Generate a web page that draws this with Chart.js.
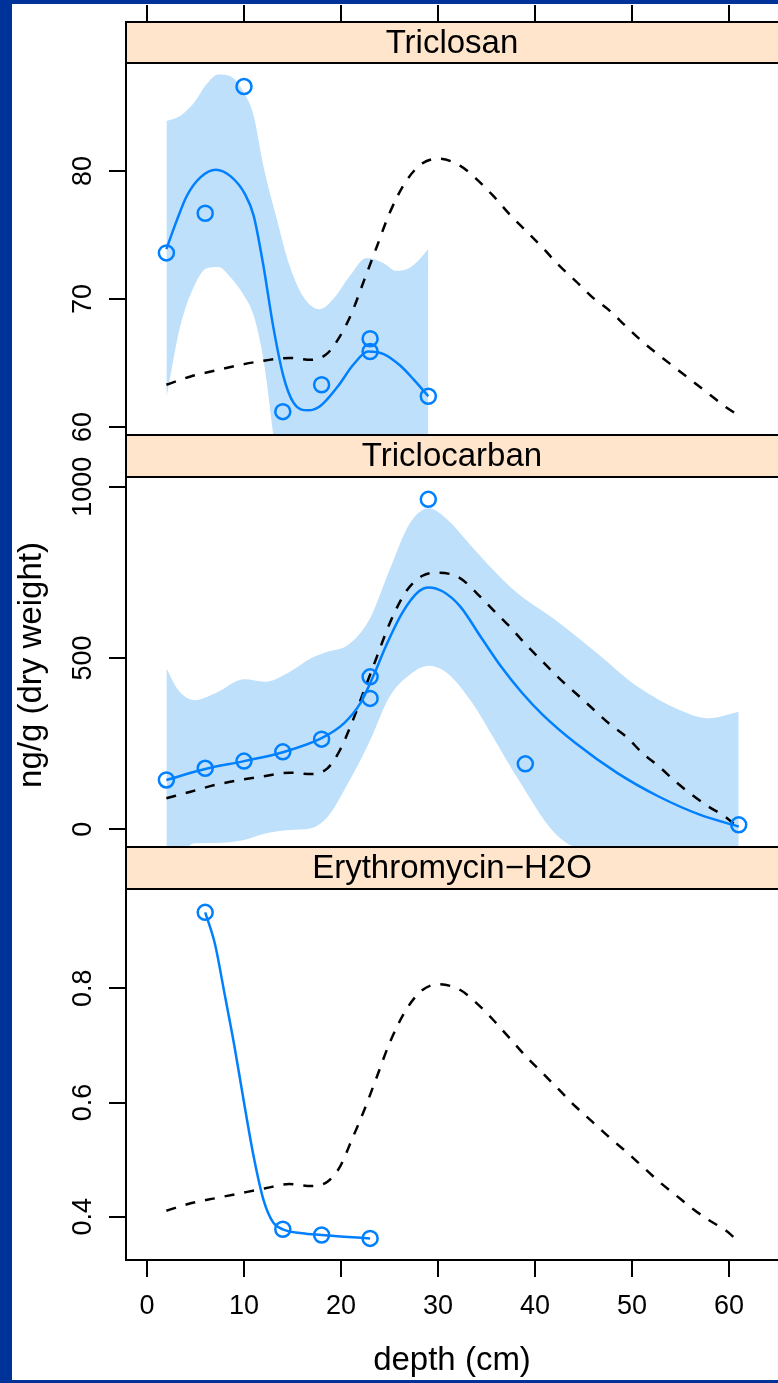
<!DOCTYPE html>
<html>
<head>
<meta charset="utf-8">
<script src="https://cdn.jsdelivr.net/npm/chart.js@4/dist/chart.umd.min.js"></script>
<style>
  html, body { margin: 0; padding: 0; background: #fff; }
  body { width: 778px; height: 1383px; position: relative; overflow: hidden; }
  canvas { position: absolute; left: 0; top: 0; }
  .edge { position: absolute; background: #003399; }
</style>
</head>
<body>
<canvas id="tcs" width="778" height="1383"></canvas>
<canvas id="tcc" width="778" height="1383"></canvas>
<canvas id="ery" width="778" height="1383"></canvas>
<div class="edge" style="left:0;top:0;width:12px;height:1383px"></div>
<div class="edge" style="left:0;top:0;width:778px;height:4px"></div>
<div class="edge" style="left:0;top:1380px;width:778px;height:3px"></div>
<script>
// depth axis, cm
const depthTicks = [0, 10, 20, 30, 40, 50, 60];
// depths of the dashed reference profile
const refDepth = [2, 4.5, 7, 9.6, 12.2, 14.7, 16.9, 18.6, 19.9, 21.1, 22.4, 23.7, 25, 26.7, 28.4, 30.1, 32.3,
  34, 35.7, 37.4, 39.1, 40.8, 42.5, 44.2, 45.9, 47.6, 49.4, 51.1, 52.8, 54.5, 56.2, 57.9, 59.6, 61];

// Triclosan
const tcsDepth = [2, 6, 10, 14, 18, 23, 23, 29];
const tcsConc = [73.6, 76.7, 86.6, 61.2, 63.3, 66.9, 65.9, 62.4];
const tcsFitDepth = [2, 3.1, 4.1, 5.5, 7.1, 8.6, 10.1, 11, 12, 13, 14.05, 15.1, 16.6, 17.8, 19.6, 21.3, 22.8, 24.4, 26.1, 27.5, 29];
const tcsFit = [73.9, 76.2, 78.05, 79.5, 80.1, 79.6, 78.2, 76.5, 72.6, 67.9, 64, 61.9, 61.3, 61.6, 63.1, 64.9, 65.9, 65.7, 64.8, 63.7, 62.4];
const tcsBandDepth = [2, 3.4, 4.8, 6.15, 7.35, 8.6, 9.9, 11, 12, 13.4, 14.7, 16.1, 17.8, 19.2, 20.9, 22.65, 24.4, 25.7, 27.1, 28.1, 29];
const tcsUpper = [83.9, 84.3, 85.3, 86.8, 87.55, 87.4, 86.25, 84.3, 80.4, 76.2, 72.6, 70.2, 69.2, 70, 71.8, 73.2, 72.8, 72.2, 72.45, 73.1, 73.9];
const tcsLower = [62.3, 67.8, 70.9, 72.4, 72.5, 71.7, 70.4, 68.7, 65.3, 57.5, 54.5, 52.5, 52.5, 54, 56.5, 58.5, 58.5, 57.5, 55, 53, 51];
const tcsRef = [63.3, 63.95, 64.4, 64.85, 65.2, 65.4, 65.25, 65.75, 67.1, 68.9, 71.5, 74.1, 76.7, 79.2, 80.6, 80.97, 80.4,
  79.35, 78.05, 76.6, 75.3, 74, 72.6, 71.4, 70.15, 69.15, 67.85, 66.65, 65.6, 64.6, 63.6, 62.6, 61.6, 60.9];
const tcsTicks = [60, 70, 80];

// Triclocarban
const tccDepth = [2, 6, 10, 14, 18, 23, 23, 29, 39, 61];
const tccConc = [144, 178, 199, 226, 263, 445, 382, 963, 191, 13];
const tccFitDepth = [2, 6, 10, 14, 18, 20.3, 22, 23.3, 24.6, 26.3, 28, 29.05, 30.5, 32.3, 34.4, 36.5, 38.7, 40.8, 44.2, 48.5, 52.8, 57.05, 61];
const tccFit = [144, 176, 199, 225, 266, 309, 368, 445, 533, 631, 694, 706, 694, 650, 562, 475, 397, 334, 251, 164, 95, 42, 8];
const tccBandDepth = [2, 3.2, 4.9, 7.04, 10, 12.2, 14.74, 16.9, 18.6, 20.7, 22.9, 25, 27.1, 29.05, 31, 33.5, 35.7, 38.2, 42.1, 46.4, 50.6, 54.9, 57.9, 61];
const tccUpper = [470, 407, 377, 397, 438, 431, 460, 499, 518, 538, 611, 757, 893, 937, 903, 825, 757, 689, 611, 514, 416, 348, 324, 343];
const tccLower = [-182, -96, -41, -40, -31, -12, -2, 3, 36, 133, 253, 387, 451, 477, 455, 370, 268, 149, -13, -85, -155, -210, -260, -330];
const tccRef = [90.5, 109.8, 129.3, 143.9, 155.6, 165, 161.4, 178, 231.5, 309.4, 406.6, 503.8, 600, 694, 740, 749, 732.6,
  688.9, 640, 591.4, 537.9, 489.2, 440.7, 397, 353.2, 309.4, 270.3, 221.8, 182.7, 138.9, 100.1, 66, 36.8, 2.9];
const tccTicks = [0, 500, 1000];

// Erythromycin-H2O
const eryDepth = [6, 14, 18, 23];
const eryConc = [0.933, 0.378, 0.368, 0.362];
const eryFitDepth = [6, 7, 8, 9, 10, 11, 12, 13, 14, 16, 18, 20.3, 23];
const eryFit = [0.933, 0.878, 0.79, 0.7, 0.6, 0.505, 0.43, 0.39, 0.378, 0.371, 0.368, 0.365, 0.362];
const eryRef = [0.4105, 0.4235, 0.4322, 0.441, 0.4497, 0.4573, 0.4538, 0.4613, 0.4876, 0.5343, 0.5869, 0.6452, 0.7037, 0.762, 0.797, 0.807, 0.797,
  0.7737, 0.7445, 0.7124, 0.68, 0.6511, 0.622, 0.5926, 0.5664, 0.54, 0.5138, 0.4876, 0.4613, 0.438, 0.4147, 0.3942, 0.3767, 0.3562];
const eryTicks = [0.4, 0.6, 0.8];

const BLUE = "#0080ff";
const BAND = "#bfe0fb";
const STRIP = "#ffe5cc";
const FONT = '"Liberation Sans", Arial, sans-serif';

const pts = (xs, ys) => xs.map((x, i) => ({ x: x, y: ys[i] }));

function makePanel(id, p) {
    const datasets = [{
        data: pts(p.depth, p.conc),
        showLine: false,
        pointRadius: 7.5,
        pointBorderWidth: 2.5,
        pointBorderColor: BLUE,
        pointBackgroundColor: "rgba(0,0,0,0)",
    }, {
        data: pts(p.fitDepth, p.fit),
        borderColor: BLUE,
        borderWidth: 2.5,
        pointRadius: 0,
        cubicInterpolationMode: "monotone",
    }, {
        data: pts(refDepth, p.ref),
        borderColor: "#000",
        borderWidth: 2.5,
        borderDash: [10, 10],
        pointRadius: 0,
        cubicInterpolationMode: "monotone",
    }];
    if (p.upper) {
        datasets.push({
            data: pts(p.bandDepth, p.upper),
            borderColor: "rgba(0,0,0,0)",
            borderWidth: 0,
            pointRadius: 0,
            cubicInterpolationMode: "monotone",
            fill: "+1",
            backgroundColor: BAND,
        }, {
            data: pts(p.bandDepth, p.lower),
            borderColor: "rgba(0,0,0,0)",
            borderWidth: 0,
            pointRadius: 0,
            cubicInterpolationMode: "monotone",
            fill: false,
        });
    }
    datasets.forEach(d => { d.clip = 0; });

    // strip, frame, rotated y labels and the outer axis text
    const decor = {
        id: "decor",
        afterDraw(chart) {
            const ctx = chart.ctx;
            const a = chart.chartArea;
            const xs = chart.scales.x, ys = chart.scales.y;
            ctx.save();
            ctx.fillStyle = STRIP;
            ctx.fillRect(a.left, p.stripTop, 700, a.top - p.stripTop);
            ctx.strokeStyle = "#000";
            ctx.lineWidth = 2;
            ctx.strokeRect(a.left, p.stripTop, 700, a.top - p.stripTop);
            ctx.strokeRect(a.left, a.top, 700, a.bottom - a.top);
            ctx.fillStyle = "#000";
            ctx.font = "33px " + FONT;
            ctx.textAlign = "center";
            ctx.textBaseline = "middle";
            ctx.fillText(p.name, 452, (p.stripTop + a.top) / 2 + 1);

            ctx.font = "27px " + FONT;
            ctx.textBaseline = "alphabetic";
            ys.ticks.forEach(t => {
                ctx.save();
                ctx.translate(91, ys.getPixelForValue(t.value));
                ctx.rotate(-Math.PI / 2);
                ctx.fillText(String(t.value), 0, 0);
                ctx.restore();
            });

            if (p.topTicks) {
                ctx.beginPath();
                depthTicks.forEach(v => {
                    const x = Math.round(xs.getPixelForValue(v));
                    ctx.moveTo(x, 5);
                    ctx.lineTo(x, p.stripTop);
                });
                ctx.stroke();
            }
            if (p.bottomAxis) {
                ctx.textBaseline = "middle";
                depthTicks.forEach(v => {
                    ctx.fillText(String(v), xs.getPixelForValue(v), 1307);
                });
                ctx.font = "33px " + FONT;
                ctx.fillText("depth (cm)", 452, 1361);
                ctx.save();
                ctx.translate(32, 665);
                ctx.rotate(-Math.PI / 2);
                ctx.fillText("ng/g (dry weight)", 0, 0);
                ctx.restore();
            }
            ctx.restore();
        },
    };

    return new Chart(document.getElementById(id), {
        type: "line",
        data: { datasets: datasets },
        options: {
            responsive: false,
            animation: false,
            devicePixelRatio: 1,
            layout: {
                autoPadding: false,
                padding: { left: 109, right: 0, top: p.top, bottom: 1383 - p.bottom - (p.bottomAxis ? 17 : 0) },
            },
            plugins: { legend: { display: false }, tooltip: { enabled: false } },
            scales: {
                x: {
                    type: "linear",
                    min: -2.165,
                    max: 65.05,
                    display: !!p.bottomAxis,
                    afterBuildTicks: s => { s.ticks = depthTicks.map(v => ({ value: v })); },
                    afterFit: s => { s.height = p.bottomAxis ? 17 : 0; },
                    ticks: { display: false },
                    grid: { drawOnChartArea: false, drawTicks: true, tickLength: 17, color: "#000", lineWidth: 2 },
                    border: { display: false },
                },
                y: {
                    type: "linear",
                    min: p.min,
                    max: p.max,
                    afterBuildTicks: s => { s.ticks = p.ticks.map(v => ({ value: v })); },
                    afterFit: s => { s.width = 17; },
                    ticks: { display: false },
                    grid: { drawOnChartArea: false, drawTicks: true, tickLength: 17, color: "#000", lineWidth: 2 },
                    border: { display: false },
                },
            },
        },
        plugins: [decor],
    });
}

makePanel("tcs", {
    name: "Triclosan", stripTop: 22, top: 63, bottom: 435, min: 59.375, max: 88.44, ticks: tcsTicks,
    depth: tcsDepth, conc: tcsConc, fitDepth: tcsFitDepth, fit: tcsFit,
    bandDepth: tcsBandDepth, upper: tcsUpper, lower: tcsLower, ref: tcsRef, topTicks: true,
});
makePanel("tcc", {
    name: "Triclocarban", stripTop: 435, top: 477, bottom: 847, min: -51.7, max: 1028.3, ticks: tccTicks,
    depth: tccDepth, conc: tccConc, fitDepth: tccFitDepth, fit: tccFit,
    bandDepth: tccBandDepth, upper: tccUpper, lower: tccLower, ref: tccRef,
});
makePanel("ery", {
    name: "Erythromycin\u2212H2O", stripTop: 847, top: 889, bottom: 1260, min: 0.3242, max: 0.9739, ticks: eryTicks,
    depth: eryDepth, conc: eryConc, fitDepth: eryFitDepth, fit: eryFit, ref: eryRef, bottomAxis: true,
});
</script>
</body>
</html>
